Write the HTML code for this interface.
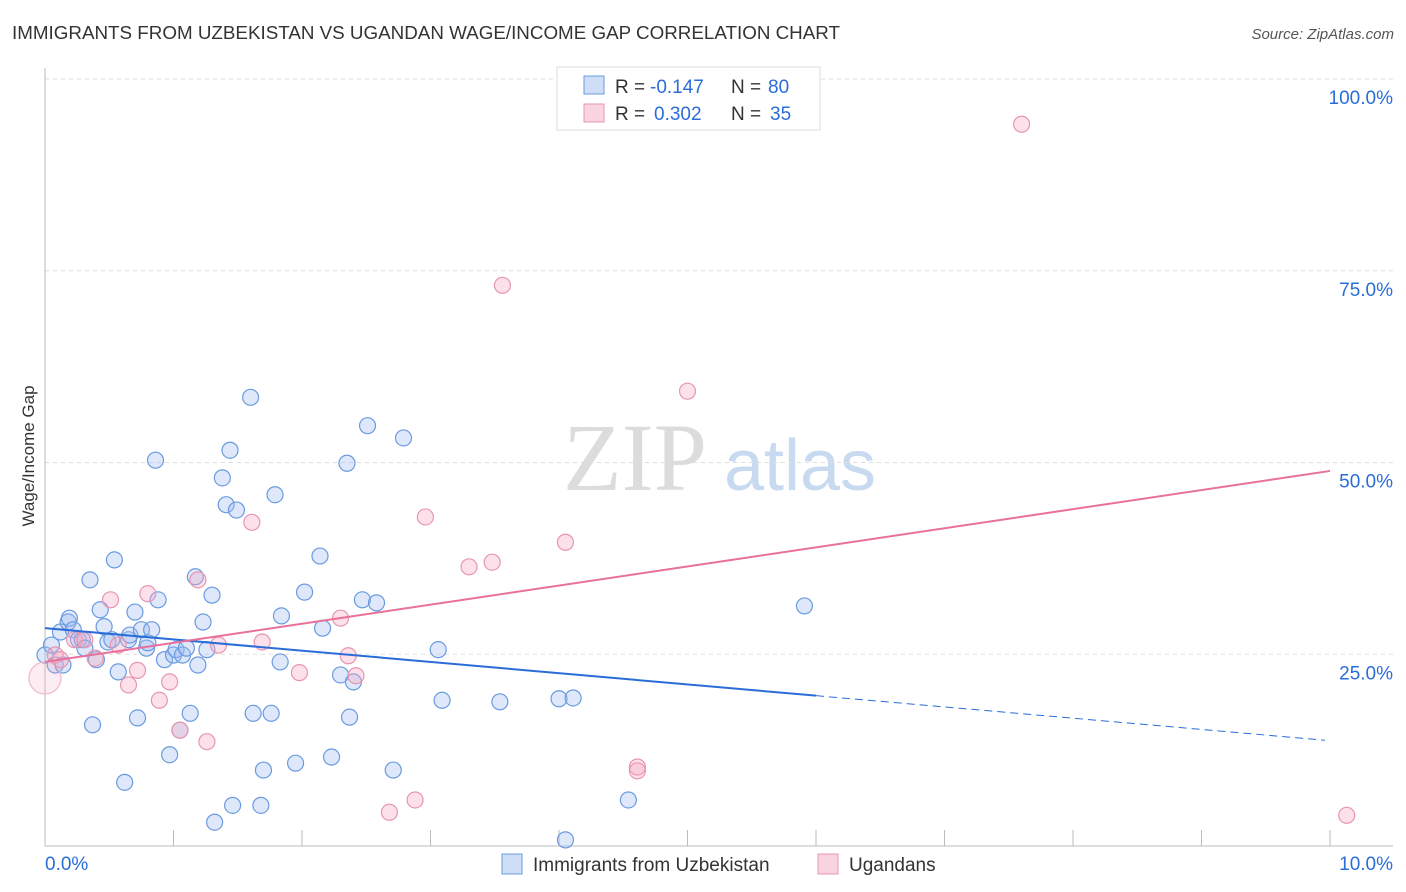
<!DOCTYPE html>
<html><head><meta charset="utf-8"><style>
body{margin:0;background:#fff;font-family:"Liberation Sans",sans-serif;}
svg{display:block}
</style></head><body>
<svg id="chart" width="1406" height="892" xmlns="http://www.w3.org/2000/svg">
<text x="12" y="39" font-size="18" fill="#333" textLength="828" lengthAdjust="spacingAndGlyphs">IMMIGRANTS FROM UZBEKISTAN VS UGANDAN WAGE/INCOME GAP CORRELATION CHART</text>
<text x="1394" y="39" font-size="15" fill="#555" text-anchor="end" font-style="italic">Source: ZipAtlas.com</text>
<g>
<text x="635" y="490" font-size="96" fill="#dcdcdc" font-family="Liberation Serif,serif" text-anchor="middle">ZIP</text>
<text x="800" y="490" font-size="72" fill="#c8daf0" text-anchor="middle">atlas</text>
</g>
<g id="grid"></g><g id="axes"></g><g id="marks"></g>
<text transform="translate(34,456) rotate(-90)" font-size="17" fill="#333" text-anchor="middle">Wage/Income Gap</text>
<g>
<rect x="557" y="67" width="263" height="63" fill="#fff" stroke="#ddd"/>
<rect x="584" y="76" width="20" height="18" fill="rgba(160,190,240,0.5)" stroke="#6a9be0"/>
<rect x="584" y="104" width="20" height="18" fill="rgba(245,170,195,0.5)" stroke="#e895b0"/>
<text x="615" y="93" font-size="19" fill="#333">R = <tspan fill="#2a6dd9" x="650">-0.147</tspan><tspan x="731">N = </tspan><tspan fill="#2a6dd9" x="768">80</tspan></text>
<text x="615" y="120" font-size="19" fill="#333">R = <tspan fill="#2a6dd9" x="654">0.302</tspan><tspan x="731">N = </tspan><tspan fill="#2a6dd9" x="770">35</tspan></text>
</g>
<g>
<rect x="502" y="854" width="20" height="20" fill="rgba(160,190,240,0.5)" stroke="#6a9be0"/>
<text x="533" y="871" font-size="19" fill="#333">Immigrants from Uzbekistan</text>
<rect x="818" y="854" width="20" height="20" fill="rgba(245,170,195,0.5)" stroke="#e895b0"/>
<text x="849" y="871" font-size="19" fill="#333">Ugandans</text>
</g>
</svg>
<script>
const yTicks=[25,50,75,100];
const yTickLabels=["25.0%","50.0%","75.0%","100.0%"];
const xTickLabels=["0.0%","10.0%"];
const blueX=[0.00,0.05,0.08,0.12,0.14,0.18,0.19,0.22,0.26,0.29,0.31,0.35,0.37,0.40,0.43,0.46,0.49,0.52,0.54,0.57,0.62,0.65,0.66,0.70,0.72,0.75,0.79,0.80,0.83,0.86,0.88,0.93,0.97,1.00,1.02,1.05,1.07,1.10,1.13,1.17,1.19,1.23,1.26,1.30,1.32,1.38,1.41,1.44,1.46,1.49,1.60,1.62,1.68,1.70,1.76,1.79,1.83,1.84,1.95,2.02,2.14,2.16,2.23,2.30,2.35,2.37,2.40,2.47,2.51,2.58,2.71,2.79,3.06,3.09,3.54,4.00,4.05,4.11,4.54,5.91];
const blueY=[24.9,26.2,23.6,27.9,23.6,29.2,29.7,28.2,26.9,26.9,25.8,34.7,15.8,24.3,30.8,28.6,26.6,26.9,37.3,22.7,8.3,26.9,27.5,30.5,16.7,28.2,25.8,26.5,28.2,50.3,32.1,24.3,11.9,24.9,25.6,15.1,24.9,25.8,17.3,35.1,23.6,29.2,25.6,32.7,3.1,48.0,44.5,51.6,5.3,43.8,58.5,17.3,5.3,9.9,17.3,45.8,24.0,30.0,10.8,33.1,37.8,28.4,11.6,22.3,49.9,16.8,21.4,32.1,54.8,31.7,9.9,53.2,25.6,19.0,18.8,19.2,0.8,19.3,6.0,31.3];
const pinkX=[0.00,0.08,0.12,0.23,0.31,0.39,0.51,0.57,0.65,0.72,0.80,0.89,0.97,1.05,1.19,1.26,1.35,1.61,1.69,1.98,2.30,2.36,2.42,2.68,2.88,2.96,3.30,3.48,3.56,4.05,4.61,4.61,5.00,7.60,10.13];
const pinkY=[21.9,24.9,24.3,26.9,26.9,24.5,32.1,26.2,21.0,22.9,32.9,19.0,21.4,15.1,34.7,13.6,26.2,42.2,26.6,22.6,29.7,24.8,22.2,4.4,6.0,42.9,36.4,37.0,73.1,39.6,10.3,9.8,59.3,94.1,4.0];
const blueTrend=[28.4,-1.467];
const pinkTrend=[24.0,2.49];
const NS="http://www.w3.org/2000/svg";
const xs=v=>45+v*128.5;
const ys=v=>846-v*7.67;
function mk(tag,attrs,parent){const e=document.createElementNS(NS,tag);for(const k in attrs)e.setAttribute(k,attrs[k]);document.getElementById(parent).appendChild(e);return e;}
yTicks.forEach((t,i)=>{
 const l=mk('line',{x1:45,x2:1393,y1:ys(t),y2:ys(t),stroke:'#ddd','stroke-dasharray':'4,4'},'grid');
 
 
 const tx=mk('text',{x:1393,y:ys(t)+25,'font-size':19,fill:'#2a6dd9','text-anchor':'end'},'axes');
 tx.textContent=yTickLabels[i];
 
 
});
let a=mk('line',{x1:45,x2:45,y1:68,y2:846,stroke:'#bbb'},'axes');


a=mk('line',{x1:45,x2:1393,y1:846,y2:846,stroke:'#bbb'},'axes');


for(let i=1;i<=10;i++){
 const t=mk('line',{x1:xs(i),x2:xs(i),y1:830,y2:846,stroke:'#bbb'},'axes');
 
 
}
let t0=mk('text',{x:45,y:870,'font-size':19,fill:'#2a6dd9'},'axes');t0.textContent=xTickLabels[0];


let t1=mk('text',{x:1393,y:870,'font-size':19,fill:'#2a6dd9','text-anchor':'end'},'axes');t1.textContent=xTickLabels[1];


blueX.forEach((x,i)=>{
 const c=mk('circle',{cx:xs(x),cy:ys(blueY[i]),r:8,fill:'rgba(160,190,240,0.35)',stroke:'#6a9be0','stroke-width':1.2},'marks');
 
 
});
pinkX.forEach((x,i)=>{
 const big=i===0;
 const c=mk('circle',{cx:xs(x),cy:ys(pinkY[i]),r:big?16:8,fill:big?'rgba(245,170,195,0.22)':'rgba(245,170,195,0.35)',stroke:big?'#f0b8cb':'#e895b0','stroke-width':1.2},'marks');
 
 
});
let l=mk('line',{x1:xs(0),y1:ys(blueTrend[0]),x2:xs(6),y2:ys(blueTrend[0]+blueTrend[1]*6),stroke:'#2a6dd9','stroke-width':2},'marks');


l=mk('line',{x1:xs(6),y1:ys(blueTrend[0]+blueTrend[1]*6),x2:xs(9.96),y2:ys(blueTrend[0]+blueTrend[1]*9.96),stroke:'#2a6dd9','stroke-width':1,'stroke-dasharray':'8,5'},'marks');


l=mk('line',{x1:xs(0),y1:ys(pinkTrend[0]),x2:xs(10),y2:ys(pinkTrend[0]+pinkTrend[1]*10),stroke:'#e8709a','stroke-width':2},'marks');


</script>
</body></html>
